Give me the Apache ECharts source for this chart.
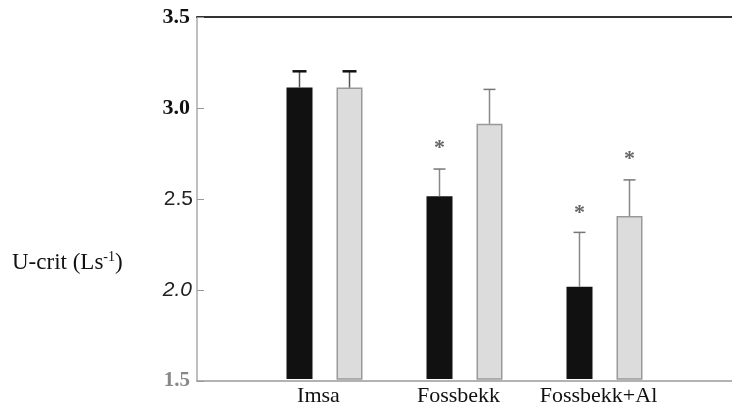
<!DOCTYPE html>
<html>
<head>
<meta charset="utf-8">
<script src="https://cdn.jsdelivr.net/npm/echarts@6/dist/echarts.min.js"></script>
<style>
  html, body { margin: 0; padding: 0; background: #fff; }
  #chart { width: 732px; height: 407px; }
</style>
</head>
<body>
<div id="chart"></div>
<script>
const categories = ['Imsa', 'Fossbekk', 'Fossbekk+Al']
const controlMeans = [3.11, 2.51, 2.01]   // black bars
const exposedMeans = [3.11, 2.91, 2.40]   // stippled bars
const controlErrTop = [3.20, 2.66, 2.31]
const exposedErrTop = [3.20, 3.10, 2.60]
const controlStar = [null, 2.79, 2.43]
const exposedStar = [null, null, 2.73]
const yTickLabels = ['1.5', '2.0', '2.5', '3.0', '3.5']

const BAR_W = 26
const BAR_GAP = 24
const OFFSET = (BAR_W + BAR_GAP) / 2

const chart = echarts.init(document.getElementById('chart'))

function errSeries(means, tops, stars, dx) {
  return {
    type: 'custom',
    xAxisIndex: 1,
    yAxisIndex: 1,
    z: 5,
    data: categories.map((c, i) => [i, means[i], tops[i]]),
    encode: { x: 0, y: [1, 2] },
    renderItem(params, api) {
      const i = params.dataIndex
      const base = api.coord([i, api.value(1)])
      const top = api.coord([i, api.value(2)])
      const x = base[0] + dx
      const dark = i === 0
      const capW = dark ? 14 : 12
      const children = [
        { type: 'line', shape: { x1: x, y1: base[1], x2: x, y2: top[1] },
          style: { stroke: dark ? '#555' : '#888', lineWidth: 1.5 } },
        { type: 'line', shape: { x1: x - capW / 2, y1: top[1], x2: x + capW / 2, y2: top[1] },
          style: { stroke: dark ? '#111' : '#777', lineWidth: dark ? 2.5 : 1.5 } }
      ]
      if (stars[i] != null) {
        const s = api.coord([i, stars[i]])
        children.push({
          type: 'text',
          style: { x: x, y: s[1] + 3, text: '*', fill: '#666', font: 'bold 22px "Liberation Serif"',
            align: 'center', verticalAlign: 'middle' }
        })
      }
      return { type: 'group', children }
    }
  }
}

const yStyles = {
  '3.5': 'a', '3.0': 'a', '2.5': 'b', '2.0': 'c', '1.5': 'd'
}

chart.setOption({
  animation: false,
  title: {
    text: 'U-crit (Ls{sup|-1})',
    left: 7,
    top: 245,
    textStyle: {
      fontFamily: 'Liberation Serif', fontSize: 23, fontWeight: 'normal', color: '#111',
      rich: {
        sup: { fontFamily: 'Liberation Serif', fontSize: 14, color: '#111', padding: [0, 0, 11, 0] }
      }
    }
  },
  grid: [
    { left: 197, right: 0, top: 17, bottom: 26 },
    { left: 254.5, width: 420, top: 17, bottom: 26 }
  ],
  xAxis: [
    {
      gridIndex: 0, type: 'category', data: [''], position: 'bottom',
      axisLine: { lineStyle: { color: '#999', width: 1.5 } },
      axisTick: { show: false }, axisLabel: { show: false }
    },
    {
      gridIndex: 1, type: 'category', data: categories,
      axisLine: { show: false }, axisTick: { show: false },
      axisLabel: { interval: 0, hideOverlap: false, margin: 6, padding: [0, 12, 0, 0],
        fontFamily: 'Liberation Serif', fontSize: 22, color: '#111' }
    },
    {
      gridIndex: 0, type: 'category', data: [''], position: 'top',
      axisLine: { lineStyle: { color: '#333', width: 2 } },
      axisTick: { show: false }, axisLabel: { show: false }
    }
  ],
  yAxis: [
    {
      gridIndex: 0, type: 'value', min: 1.5, max: 3.5, interval: 0.5,
      axisLine: { show: true, lineStyle: { color: '#aaa', width: 1.5 } },
      axisTick: { show: true, inside: true, length: 7, lineStyle: { color: '#999' } },
      splitLine: { show: false },
      axisLabel: {
        margin: 4,
        formatter: v => {
          const t = yTickLabels.find(l => Math.abs(parseFloat(l) - v) < 1e-6) || ''
          return '{' + yStyles[t] + '|' + t + '}'
        },
        rich: {
          a: { fontFamily: 'Liberation Serif', fontWeight: 'bold', fontSize: 22, color: '#111', padding: [0, 3, 0, 0] },
          b: { fontFamily: 'Liberation Sans', fontSize: 21, color: '#222' },
          c: { fontFamily: 'Liberation Sans', fontStyle: 'italic', fontSize: 21, color: '#222', padding: [0, 1, 0, 0] },
          d: { fontFamily: 'Liberation Serif', fontWeight: 'bold', fontSize: 21, color: '#888', padding: [0, 3, 0, 0] }
        }
      }
    },
    {
      gridIndex: 1, type: 'value', min: 1.5, max: 3.5, interval: 0.5,
      axisLine: { show: false }, axisTick: { show: false },
      axisLabel: { show: false }, splitLine: { show: false }
    }
  ],
  series: [
    {
      type: 'bar', xAxisIndex: 1, yAxisIndex: 1,
      data: controlMeans, barWidth: BAR_W, barGap: (BAR_GAP / BAR_W * 100) + '%',
      itemStyle: { color: '#111' }
    },
    {
      type: 'bar', xAxisIndex: 1, yAxisIndex: 1,
      data: exposedMeans, barWidth: BAR_W,
      itemStyle: { color: '#dcdcdc', borderColor: '#999', borderWidth: 1.5 }
    },
    errSeries(controlMeans, controlErrTop, controlStar, -OFFSET),
    errSeries(exposedMeans, exposedErrTop, exposedStar, OFFSET)
  ]
})
</script>
</body>
</html>
